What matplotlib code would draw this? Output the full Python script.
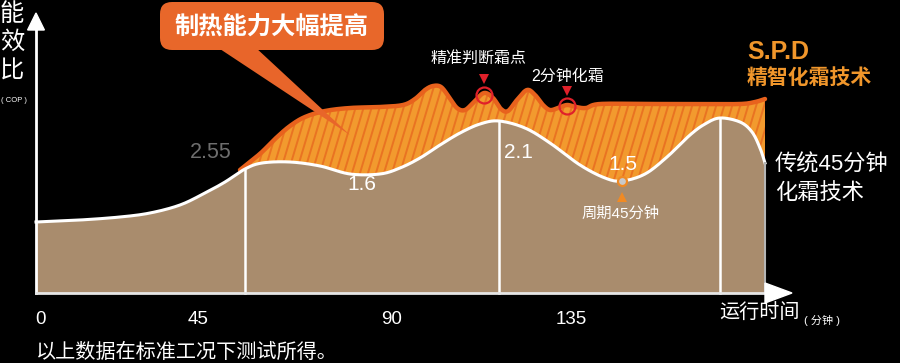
import numpy as np
import matplotlib
matplotlib.use("Agg")
import matplotlib.pyplot as plt
from matplotlib.patches import Polygon, FancyBboxPatch
from matplotlib.collections import LineCollection

plt.rcParams['font.family'] = ['Liberation Sans', 'Noto Sans CJK SC', 'DejaVu Sans']

# traditional 45-minute defrost curve (time, COP-like height)
base_t = [0, 11, 21, 28.5, 36, 42.25, 47.25, 52.25, 56.5, 63.5, 71, 78.5, 86, 91, 96, 101,
          106, 111, 115.75, 122.25, 128.5, 136, 142.25, 146.5, 152.25, 157.75, 163.5,
          167.25, 171, 176, 179, 181, 182.25]
base_y = [0.71, 0.73, 0.76, 0.80, 0.88, 1.00, 1.11, 1.24, 1.30, 1.31, 1.27, 1.19, 1.19, 1.25,
          1.35, 1.48, 1.60, 1.69, 1.72, 1.65, 1.50, 1.28, 1.15, 1.12, 1.19, 1.36, 1.58,
          1.69, 1.75, 1.71, 1.61, 1.45, 1.30]

# S.P.D smart defrost curve
spd_t = [51, 53.5, 56.5, 59.75, 63.5, 67.25, 72.25, 78.5, 86, 91.75, 94.75, 97.25, 99.25,
         101.25, 103.25, 105.25, 107.25, 109.5, 112, 114.25, 116.25, 118, 120.25, 122.75,
         124.75, 126.75, 128.5, 130.5, 132.75, 135, 137.5, 141, 153.5, 166, 176, 179.75, 182.25]
spd_y = [1.23, 1.31, 1.41, 1.54, 1.67, 1.76, 1.82, 1.85, 1.86, 1.88, 1.94, 2.03, 2.07, 2.06,
         1.96, 1.85, 1.83, 1.91, 2.00, 1.95, 1.84, 1.82, 1.93, 2.03, 1.98, 1.88, 1.83, 1.85,
         1.88, 1.86, 1.85, 1.89, 1.89, 1.89, 1.89, 1.91, 1.94]

defrost_t = [52.25, 115.75, 171]
tick_labels = ['0', '45', '90', '135']
value_labels = ['2.55', '1.6', '2.1', '1.5']


def smooth(x, y, n=16):
    # catmull-rom through the read points, only for drawing
    p = np.column_stack([x, y]).astype(float)
    p = np.vstack([p[0], p, p[-1]])
    s = np.linspace(0, 1, n, endpoint=False)[:, None]
    out = []
    for i in range(1, len(p) - 2):
        p0, p1, p2, p3 = p[i - 1], p[i], p[i + 1], p[i + 2]
        out.append(0.5 * (2 * p1 + (-p0 + p2) * s + (2 * p0 - 5 * p1 + 4 * p2 - p3) * s ** 2
                          + (-p0 + 3 * p1 - 3 * p2 + p3) * s ** 3))
    out.append(p[-2][None])
    c = np.vstack(out)
    return c[:, 0], c[:, 1]


fig = plt.figure(figsize=(9, 3.63), dpi=100, facecolor='black')
ax = fig.add_axes([0, 0, 1, 1])
ax.set_facecolor('black')
ax.set_xlim(-9, 216)
ax.set_ylim(-0.70, 2.93)
ax.axis('off')

bx, by = smooth(base_t, base_y)
sx, sy = smooth(spd_t, spd_y)

# orange S.P.D area
spd_poly = Polygon(np.vstack([np.column_stack([sx, sy]), [[sx[-1], 0], [sx[0], 0]]]),
                   closed=True, facecolor='#F29A2E', edgecolor='none', zorder=1)
ax.add_patch(spd_poly)
starts = np.arange(20, 190, 2.0)
segs = [[(s0, 0), (s0 + 7.5 * 2.3, 2.3)] for s0 in starts]
stripes = LineCollection(segs, colors='#E97322', linewidths=1.4, zorder=2)
stripes.set_clip_path(spd_poly)
ax.add_collection(stripes)
ax.plot(sx, sy, color='#E8621D', lw=3.2, zorder=3, solid_capstyle='round')

# speech bubble
ax.add_patch(Polygon([[45.25, 2.46], [54.75, 2.46], [78.5, 1.58]], closed=True,
                     facecolor='#E8652A', edgecolor='none', zorder=4))
ax.add_patch(FancyBboxPatch((31, 2.43), 56, 0.48, boxstyle='round,pad=0,rounding_size=3',
                            mutation_aspect=0.04, facecolor='#E8672A', edgecolor='none', zorder=4))
ax.text(59, 2.665, '制热能力大幅提高', color='white', fontsize=17.5, fontweight='bold',
        ha='center', va='center', zorder=5)

# brown traditional area
ax.fill_between(bx, by, 0, color='#A98C6D', lw=0, zorder=5)
ax.plot(bx, by, color='white', lw=2.2, zorder=6)
ax.plot([base_t[-1], base_t[-1]], [0, base_y[-1]], color='#B5B5B5', lw=1.5, zorder=6)
for t in defrost_t:
    ax.plot([t, t], [0, np.interp(t, bx, by)], color='white', lw=1.8, zorder=6)

# axes with arrows
ax.plot([0, 0], [0, 2.64], color='white', lw=2, zorder=7)
ax.add_patch(Polygon([[-2.1, 2.63], [2.1, 2.63], [0, 2.80]], closed=True, color='white', zorder=7))
ax.plot([0, 182.5], [0, 0], color='#E6E6E6', lw=2, zorder=7)
ax.add_patch(Polygon([[182.25, -0.10], [182.25, 0.10], [189, 0]], closed=True, color='white', zorder=7))

for ch, yy in zip('能效比', [2.78, 2.50, 2.21]):
    ax.text(-6, yy, ch, color='white', fontsize=17.5, ha='center', va='center')
ax.text(-5.5, 1.93, '( COP )', color='white', fontsize=5.5, ha='center', va='center')

for pos, lab in zip([1.25, 40.5, 89, 133.75], tick_labels):
    ax.text(pos, -0.27, lab, color='white', fontsize=13.5, ha='center', va='center')
ax.text(180.75, -0.205, '运行时间', color='white', fontsize=14.5, ha='center', va='center')
ax.text(196.5, -0.27, '( 分钟 )', color='white', fontsize=8, ha='center', va='center')
ax.text(0, -0.59, '以上数据在标准工况下测试所得。', color='white', fontsize=14.5,
        ha='left', va='center')

# value labels
ax.text(43.75, 1.41, value_labels[0], color='#6E6E6E', fontsize=15.5, ha='center', va='center', zorder=8)
ax.text(81.5, 1.08, value_labels[1], color='white', fontsize=15, ha='center', va='center', zorder=8)
ax.text(120.5, 1.41, value_labels[2], color='white', fontsize=15, ha='center', va='center', zorder=8)
ax.text(146.75, 1.29, value_labels[3], color='white', fontsize=15, ha='center', va='center', zorder=8)

ax.plot([146.5], [np.interp(146.5, bx, by)], marker='o', ms=6.5, mfc='#C9C9C9', mec='#F08A24',
        mew=1.6, zorder=9)
ax.plot([146.5], [0.965], marker='^', ms=7, color='#F08A24', mew=0, zorder=9)
ax.text(146.25, 0.79, '周期45分钟', color='white', fontsize=11, ha='center', va='center', zorder=8)

# defrost point markers
ax.text(110.75, 2.35, '精准判断霜点', color='white', fontsize=11.5, ha='center', va='center')
ax.text(133, 2.17, '2分钟化霜', color='white', fontsize=11.5, ha='center', va='center')
for t, yc, ya in [(112, 1.98, 2.14), (132.75, 1.87, 2.02)]:
    ax.plot([t], [yc], marker='o', ms=11.5, mfc='none', mec='#E0202A', mew=1.6, zorder=9)
    ax.plot([t], [ya], marker='v', ms=7, color='#E0202A', mew=0, zorder=9)

ax.text(177.75, 2.41, 'S.P.D', color='#F0962B', fontsize=18, fontweight='bold',
        ha='left', va='center')
ax.text(177.75, 2.15, '精智化霜技术', color='#F0962B', fontsize=15, fontweight='bold',
        ha='left', va='center')
ax.text(184.75, 1.28, '传统45分钟', color='white', fontsize=16, ha='left', va='center')
ax.text(184.75, 1.00, '化霜技术', color='white', fontsize=16, ha='left', va='center')

fig.savefig('out.png', dpi=100, facecolor='black')
